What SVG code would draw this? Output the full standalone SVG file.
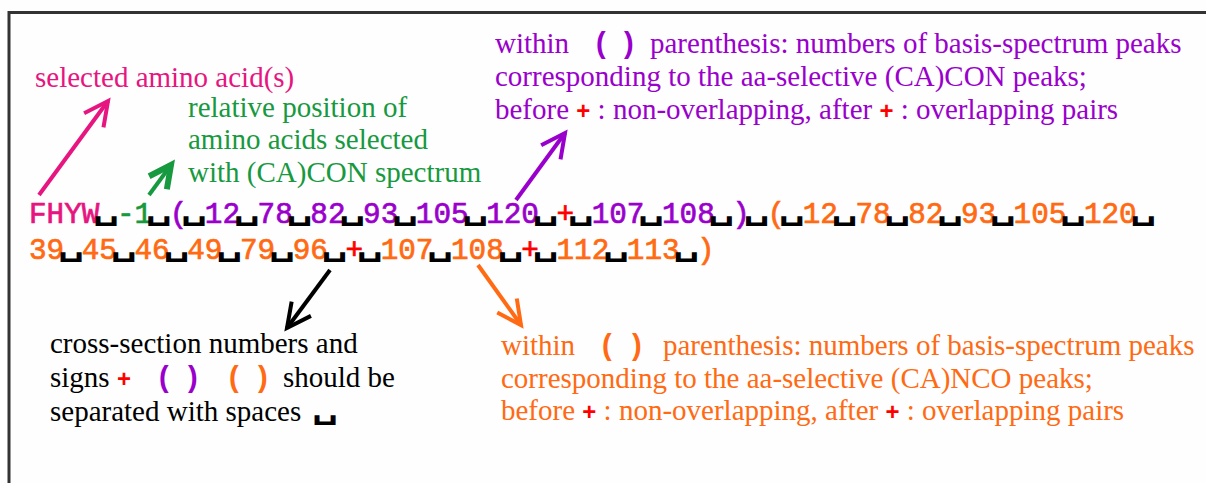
<svg xmlns="http://www.w3.org/2000/svg" width="1206" height="483" viewBox="0 0 1206 483">
  <style>
    .serif{font-family:"Liberation Serif","Times New Roman",serif;font-size:29px}
    .code{font-family:"Liberation Mono","Courier New",monospace;font-size:29.3px;stroke-width:0.7}
    .code.or,.code .or{stroke:#ff6a13}
    .code .pk{stroke:#e6157f}
    .code .gr{stroke:#17993f}
    .code .pu{stroke:#9a00cc}
    .code .rd{stroke:#ff0000}
    .sp{font-family:"DejaVu Sans Mono",monospace;font-weight:bold;font-size:29.3px;fill:#000}
    .sym{font-family:"Liberation Sans",Arial,sans-serif;font-weight:bold}
    .pk{fill:#e6157f}
    .gr{fill:#17993f}
    .pu{fill:#9a00cc}
    .or{fill:#ff6a13}
    .rd{fill:#ff0000}
    .bk{fill:#000}
    .arrow{fill:none;stroke-width:4}
  </style>
  <defs>
    <marker id="head-pk" markerUnits="userSpaceOnUse" viewBox="-30 -15 34 30" refX="0" refY="0" markerWidth="34" markerHeight="30" orient="auto" overflow="visible">
      <path d="M-24,-12 L0,0 L-24,12" fill="none" stroke="#e6157f" stroke-width="4"/>
    </marker>
    <marker id="head-gr" markerUnits="userSpaceOnUse" viewBox="-30 -15 34 30" refX="0" refY="0" markerWidth="34" markerHeight="30" orient="auto" overflow="visible">
      <path d="M-22,-11 L0,0 L-22,11" fill="none" stroke="#17993f" stroke-width="6"/>
    </marker>
    <marker id="head-pu" markerUnits="userSpaceOnUse" viewBox="-30 -15 34 30" refX="0" refY="0" markerWidth="34" markerHeight="30" orient="auto" overflow="visible">
      <path d="M-24,-12 L0,0 L-24,12" fill="none" stroke="#9a00cc" stroke-width="4"/>
    </marker>
    <marker id="head-bk" markerUnits="userSpaceOnUse" viewBox="-30 -15 34 30" refX="0" refY="0" markerWidth="34" markerHeight="30" orient="auto" overflow="visible">
      <path d="M-24,-12 L0,0 L-24,12" fill="none" stroke="#000" stroke-width="4"/>
    </marker>
    <marker id="head-or" markerUnits="userSpaceOnUse" viewBox="-30 -15 34 30" refX="0" refY="0" markerWidth="34" markerHeight="30" orient="auto" overflow="visible">
      <path d="M-24,-12 L0,0 L-24,12" fill="none" stroke="#ff6a13" stroke-width="4"/>
    </marker>
  </defs>

  <rect width="1206" height="483" fill="#fefefe"/>
  <!-- frame -->
  <rect x="9" y="12.5" width="1220" height="500" fill="none" stroke="#333" stroke-width="3"/>

  <!-- the cross-section string; open-box space markers sit in the gaps -->
  <g id="code">
    <text class="code" x="29" y="223" xml:space="preserve"><tspan class="pk">FHYW</tspan> <tspan class="gr">-1</tspan> <tspan class="pu">( 12 78 82 93 105 120 </tspan><tspan class="rd">+</tspan><tspan class="pu"> 107 108 )</tspan> <tspan class="or">( 12 78 82 93 105 120</tspan></text>
    <text class="code or" x="29" y="259" xml:space="preserve">39 45 46 49 79 96 <tspan class="rd">+</tspan> 107 108 <tspan class="rd">+</tspan> 112 113 )</text>
    <text class="sp" transform="scale(1.45,1)" y="219" text-anchor="middle" x="73.19 109.56 133.81 170.18 206.55 242.92 279.30 327.79 376.29 400.54 449.03 497.53 521.78 546.03 582.40 618.77 655.14 691.52 740.01 788.51">␣␣␣␣␣␣␣␣␣␣␣␣␣␣␣␣␣␣␣␣</text>
    <text class="sp" transform="scale(1.45,1)" y="255" text-anchor="middle" x="48.94 85.31 121.68 158.06 194.43 230.80 255.05 303.55 352.04 376.29 424.79 473.28">␣␣␣␣␣␣␣␣␣␣␣␣</text>
  </g>

  <g id="label-selected">
    <text class="serif pk" x="35" y="87">selected amino acid(s)</text>
  </g>

  <g id="label-position">
    <text class="serif gr" x="188" y="117">relative position of</text>
    <text class="serif gr" x="188" y="149">amino acids selected</text>
    <text class="serif gr" x="188" y="182">with (CA)CON spectrum</text>
  </g>

  <g id="label-cacon">
    <text class="serif pu" x="495" y="53">within<tspan class="sym" x="596">(</tspan><tspan class="sym" x="624">)</tspan><tspan x="650">parenthesis: numbers of basis-spectrum peaks</tspan></text>
    <text class="serif pu" x="495" y="86">corresponding to the aa-selective (CA)CON peaks;</text>
    <text class="serif pu" x="495" y="119">before <tspan class="sym rd" font-size="24">+</tspan> : non-overlapping, after <tspan class="sym rd" font-size="24">+</tspan> : overlapping pairs</text>
  </g>

  <g id="label-canco">
    <text class="serif or" x="501" y="355">within<tspan class="sym" x="602">(</tspan><tspan class="sym" x="632">)</tspan><tspan x="663">parenthesis: numbers of basis-spectrum peaks</tspan></text>
    <text class="serif or" x="501" y="388">corresponding to the aa-selective (CA)NCO peaks;</text>
    <text class="serif or" x="501" y="420">before <tspan class="sym rd" font-size="24">+</tspan> : non-overlapping, after <tspan class="sym rd" font-size="24">+</tspan> : overlapping pairs</text>
  </g>

  <g id="label-spaces">
    <text class="serif bk" x="50" y="353">cross-section numbers and</text>
    <text class="serif bk" x="50" y="387">signs<tspan class="sym rd" x="117" font-size="24">+</tspan><tspan class="sym pu" x="159">(</tspan><tspan class="sym pu" x="188">)</tspan><tspan class="sym or" x="229">(</tspan><tspan class="sym or" x="258">)</tspan><tspan x="283">should be</tspan></text>
    <text class="serif bk" x="50" y="421">separated with spaces</text>
    <text class="sp" transform="scale(1.45,1)" y="418" text-anchor="middle" x="224.14">␣</text>
  </g>

  <g id="connectors">
    <line class="arrow" x1="39" y1="195" x2="108" y2="101" stroke="#e6157f" marker-end="url(#head-pk)"/>
    <line class="arrow" x1="149" y1="195" x2="171" y2="165" stroke="#17993f" stroke-width="6" marker-end="url(#head-gr)"/>
    <line class="arrow" x1="516" y1="200" x2="565" y2="133" stroke="#9a00cc" marker-end="url(#head-pu)"/>
    <line class="arrow" x1="330" y1="270" x2="287" y2="328" stroke="#000" marker-end="url(#head-bk)"/>
    <line class="arrow" x1="478" y1="265" x2="521" y2="325" stroke="#ff6a13" marker-end="url(#head-or)"/>
  </g>
</svg>
